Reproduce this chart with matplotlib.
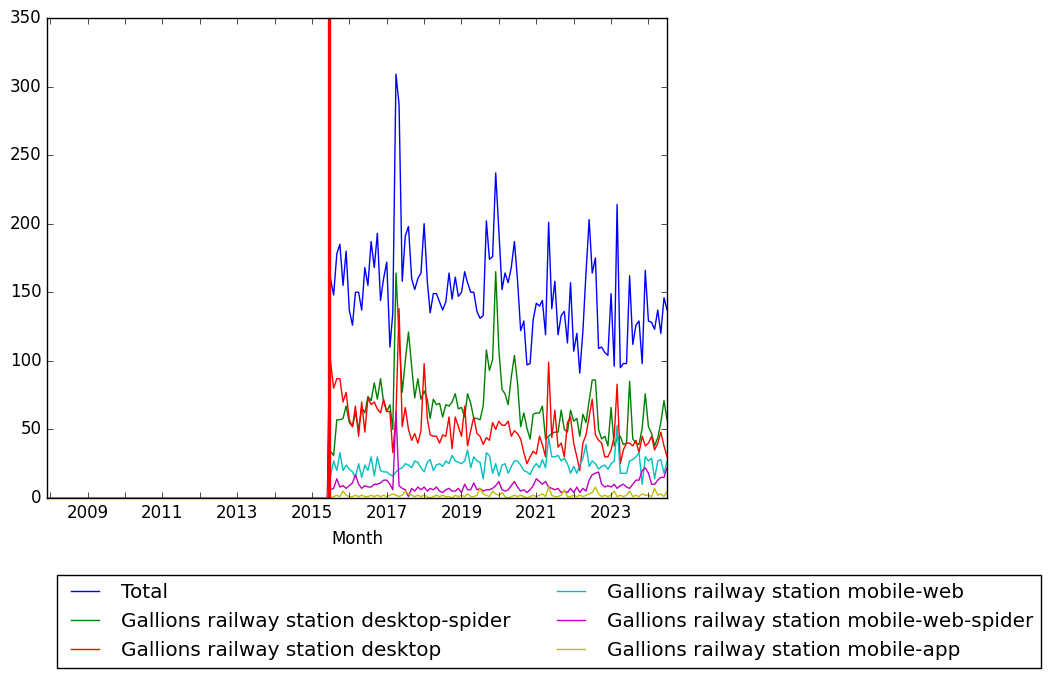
import datetime as dt
import pandas as pd
import matplotlib
matplotlib.use("Agg")
import matplotlib.pyplot as plt
import matplotlib.dates as mdates

plt.style.use("classic")

# monthly page views, Jul 2015 .. Jul 2024 (zeros before that, from Dec 2007)
first_month = "2007-12-01"
marker_date = "2015-06-16"
lead_zero_months = 91

total = [160, 148, 178, 185, 155, 180, 137, 126, 150, 150, 137, 168, 155, 187, 168, 193, 144, 160, 172, 110,
         135, 309, 287, 158, 191, 198, 160, 152, 160, 164, 200, 158, 135, 149, 149, 143, 137, 143, 164, 145,
         161, 147, 150, 165, 157, 150, 150, 136, 131, 133, 202, 174, 176, 237, 195, 152, 164, 157, 168, 187,
         159, 122, 129, 97, 98, 130, 142, 140, 144, 119, 201, 138, 158, 119, 133, 136, 113, 157, 107, 120,
         91, 122, 164, 203, 164, 175, 109, 110, 106, 104, 149, 96, 214, 95, 98, 98, 162, 112, 126, 129,
         98, 166, 129, 128, 123, 137, 120, 146, 137]
desktop_spider = [34, 31, 57, 57, 58, 67, 55, 52, 62, 50, 66, 62, 74, 71, 84, 72, 87, 70, 63, 68,
                  50, 164, 118, 77, 100, 121, 96, 73, 87, 72, 78, 72, 58, 72, 68, 69, 59, 68, 67, 70,
                  76, 65, 66, 59, 76, 69, 58, 58, 57, 67, 108, 93, 101, 165, 108, 79, 76, 68, 88, 104,
                  84, 52, 62, 51, 43, 61, 62, 62, 67, 43, 45, 47, 48, 48, 64, 50, 48, 64, 56, 58,
                  45, 61, 55, 71, 86, 86, 50, 43, 45, 38, 66, 38, 43, 45, 39, 40, 85, 43, 40, 39,
                  51, 76, 52, 47, 38, 44, 55, 71, 57]
desktop = [100, 80, 87, 87, 70, 77, 57, 52, 67, 45, 70, 48, 73, 68, 70, 65, 62, 72, 63, 63,
           33, 60, 138, 52, 66, 50, 42, 47, 40, 49, 98, 58, 46, 45, 45, 40, 46, 45, 59, 36,
           59, 52, 45, 67, 38, 49, 59, 47, 45, 39, 44, 42, 55, 50, 56, 53, 53, 56, 45, 49,
           47, 43, 33, 25, 30, 34, 32, 45, 39, 30, 99, 44, 64, 37, 40, 30, 55, 59, 40, 30,
           20, 40, 46, 59, 72, 46, 42, 40, 30, 30, 35, 45, 83, 25, 35, 40, 40, 38, 42, 33,
           45, 38, 40, 45, 35, 40, 48, 38, 30]
mobile_web = [16, 27, 20, 33, 20, 24, 21, 19, 15, 25, 15, 24, 20, 30, 16, 30, 20, 19, 19, 17,
              16, 19, 21, 22, 25, 24, 22, 27, 26, 22, 19, 26, 28, 20, 24, 25, 23, 27, 25, 31,
              27, 26, 25, 27, 35, 22, 30, 27, 26, 14, 33, 31, 18, 25, 16, 24, 25, 18, 23, 27,
              27, 24, 20, 19, 17, 22, 25, 22, 28, 22, 44, 30, 30, 31, 27, 29, 25, 18, 23, 18,
              24, 29, 39, 23, 27, 25, 21, 23, 24, 21, 25, 27, 53, 18, 18, 18, 27, 28, 30, 33,
              10, 30, 27, 29, 14, 27, 28, 18, 27]
mobile_web_spider = [6, 7, 14, 8, 9, 7, 9, 11, 17, 10, 7, 9, 8, 8, 10, 10, 11, 13, 13, 10,
                     6, 63, 9, 7, 6, 1, 7, 5, 8, 6, 8, 5, 7, 6, 8, 5, 4, 6, 7, 5,
                     5, 7, 4, 10, 6, 6, 11, 6, 7, 5, 6, 6, 7, 9, 12, 6, 5, 6, 9, 12,
                     8, 5, 6, 4, 6, 9, 14, 12, 10, 12, 8, 7, 6, 7, 4, 5, 4, 7, 4, 8,
                     4, 7, 5, 13, 17, 18, 19, 10, 8, 9, 8, 10, 7, 9, 10, 8, 7, 10, 13, 13,
                     20, 22, 18, 10, 10, 13, 15, 15, 22]
mobile_app = [0, 1, 2, 1, 5, 2, 1, 1, 2, 1, 2, 1, 1, 2, 1, 2, 1, 2, 1, 2,
              3, 2, 1, 2, 5, 3, 2, 1, 2, 1, 2, 1, 0, 1, 2, 1, 2, 1, 1, 0,
              2, 1, 2, 1, 3, 1, 1, 2, 7, 3, 2, 1, 5, 3, 2, 4, 1, 0, 1, 2,
              1, 2, 1, 0, 1, 2, 1, 2, 3, 1, 8, 2, 1, 1, 2, 6, 1, 1, 2, 1,
              2, 1, 2, 3, 4, 8, 3, 1, 2, 1, 2, 5, 1, 2, 1, 2, 5, 1, 2, 1,
              3, 2, 2, 1, 7, 2, 3, 1, 5]

labels = ["Total",
          "Gallions railway station desktop-spider",
          "Gallions railway station desktop",
          "Gallions railway station mobile-web",
          "Gallions railway station mobile-web-spider",
          "Gallions railway station mobile-app"]
colors = ["b", "g", "r", "c", "m", "y"]
series = [total, desktop_spider, desktop, mobile_web, mobile_web_spider, mobile_app]

n = lead_zero_months + len(total)
months = pd.date_range(first_month, periods=n, freq="MS")

fig = plt.figure(figsize=(10.51, 6.79), dpi=100, facecolor="w")
ax = fig.add_axes([0.0447, 0.2666, 0.590, 0.707])

for vals, lab, col in zip(series, labels, colors):
    y = [0] * lead_zero_months + vals
    ax.plot(months, y, color=col, linewidth=1.0, label=lab)

ax.axvline(pd.Timestamp(marker_date), color="r", linewidth=2.4)

ax.set_xlim(months[0], months[-1])
ax.set_ylim(0, 350)
ax.set_yticks(range(0, 351, 50))
ax.set_xticks([dt.datetime(yr, 1, 1) for yr in range(2009, 2025, 2)])
ax.set_xticks([dt.datetime(yr, 1, 1) for yr in range(2008, 2025)], minor=True)
ax.xaxis.set_major_formatter(mdates.DateFormatter("%Y"))
ax.tick_params(which="minor", length=4)
ax.set_xlabel("Month", labelpad=6)

ax.legend(loc="upper left", bbox_to_anchor=(0.0542, 0.1532),
          bbox_transform=fig.transFigure, ncol=2, borderaxespad=0)

fig.savefig("out.png", dpi=100, facecolor="w")
